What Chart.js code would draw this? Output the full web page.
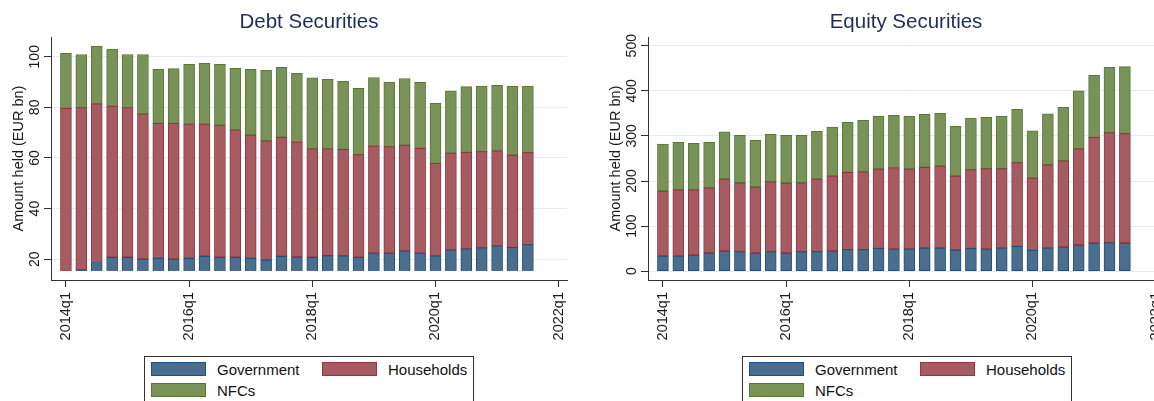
<!DOCTYPE html>
<html>
<head>
<meta charset="utf-8">
<title>Debt and equity securities held</title>
<script src="https://cdn.jsdelivr.net/npm/chart.js@4/dist/chart.umd.min.js"></script>
<style>
  html, body { margin: 0; padding: 0; background: #fff; }
  #page { position: relative; width: 1154px; height: 401px; overflow: hidden; }
  #page canvas { position: absolute; top: 0; }
  .legend {
    position: absolute; top: 356px; width: 328px; height: 60px;
    border: 1px solid #333; background: #fff;
    font: 15px "Liberation Sans", Arial, sans-serif; color: #111;
  }
  .legend .item { position: absolute; display: flex; align-items: center; height: 14px; white-space: nowrap; }
  .legend .sw { width: 53px; height: 12px; border: 1px solid; margin-right: 11px; }
</style>
</head>
<body>
<div id="page">
  <canvas id="debt" width="577" height="401" style="left:0px"></canvas>
  <canvas id="equity" width="577" height="401" style="left:597px"></canvas>
  <div class="legend" id="legend-debt" style="left:144px"></div>
  <div class="legend" id="legend-equity" style="left:742px"></div>
</div>
<script>
// Quarters covered by the series
const quarters = [
  '2014q1','2014q2','2014q3','2014q4',
  '2015q1','2015q2','2015q3','2015q4',
  '2016q1','2016q2','2016q3','2016q4',
  '2017q1','2017q2','2017q3','2017q4',
  '2018q1','2018q2','2018q3','2018q4',
  '2019q1','2019q2','2019q3','2019q4',
  '2020q1','2020q2','2020q3','2020q4',
  '2021q1','2021q2','2021q3'
];
const xTickLabels = ['2014q1', '2016q1', '2018q1', '2020q1', '2022q1'];
const debtYTicks = [20, 40, 60, 80, 100];
const equityYTicks = [0, 100, 200, 300, 400, 500];
const seriesNames = ['Government', 'Households', 'NFCs'];

// Debt securities held, EUR bn, by holder sector
const debtGovernment = [15.2, 15.8, 19.1, 20.8, 20.8, 20.1, 20.4, 20.1, 20.4, 21.2, 20.8, 20.8, 20.4, 19.7, 21.2, 20.9,
                        20.8, 21.4, 21.3, 20.8, 22.4, 22.4, 23.3, 22.4, 21.3, 23.7, 24.1, 24.5, 25.3, 24.7, 25.8];
const debtHouseholds = [64.4, 64.1, 62.3, 59.7, 59.1, 57.3, 53.3, 53.6, 53.0, 52.2, 52.2, 50.3, 48.7, 47.1, 47.0, 45.4,
                        42.8, 42.2, 42.1, 40.5, 42.3, 42.1, 41.8, 41.4, 36.6, 38.2, 38.1, 38.0, 37.5, 36.5, 36.3];
const debtNFCs       = [21.7, 21.0, 22.7, 22.5, 21.0, 23.5, 21.3, 21.6, 23.6, 24.0, 24.0, 24.3, 25.9, 27.8, 27.6, 27.1,
                        28.1, 27.5, 26.9, 26.2, 27.1, 25.4, 26.3, 26.1, 23.7, 24.6, 26.0, 25.9, 25.9, 27.1, 26.2];

// Equity securities held, EUR bn, by holder sector
const equityGovernment = [33.7, 33.7, 35.9, 40.4, 44.8, 43.3, 40.4, 43.3, 40.4, 43.3, 43.3, 44.8, 47.7, 47.7, 50.7, 49.2,
                          49.2, 51.4, 51.4, 47.0, 50.7, 49.2, 51.4, 55.1, 46.3, 51.4, 53.7, 58.1, 62.5, 63.3, 62.5];
const equityHouseholds = [144.1, 147.0, 144.8, 144.7, 159.6, 152.9, 146.3, 155.1, 155.1, 152.9, 161.1, 166.3, 171.6, 172.9, 175.9, 179.8,
                          177.4, 179.0, 181.9, 164.1, 174.4, 178.1, 175.9, 185.5, 160.4, 184.7, 191.3, 213.5, 234.4, 243.8, 242.4];
const equityNFCs       = [104.2, 105.1, 102.9, 100.7, 104.9, 105.1, 103.5, 105.1, 105.8, 105.1, 105.8, 108.6, 110.9, 114.0, 116.9, 116.7,
                          117.5, 117.4, 116.8, 110.2, 114.6, 113.9, 116.8, 118.4, 104.8, 113.1, 118.4, 128.6, 137.5, 145.0, 148.6];

const FONT = '"Liberation Sans", Arial, Helvetica, sans-serif';
const fills   = ['#4b6d8e', '#a65b61', '#78925a'];
const borders = ['#22507a', '#93363e', '#577a30'];

// Quarter label -> position on the time axis (quarters since the first one)
const baseYear = parseInt(quarters[0].slice(0, 4), 10);
function quarterIndex(label) {
  return (parseInt(label.slice(0, 4), 10) - baseYear) * 4 + parseInt(label.slice(5), 10) - 1;
}

// Titles and rotated y tick labels, drawn in the style of the original graph
const panelText = {
  id: 'panelText',
  afterDraw(chart, args, opts) {
    const { ctx, chartArea: a } = chart;
    const y = chart.scales.y;
    ctx.save();
    ctx.textAlign = 'center';
    ctx.textBaseline = 'alphabetic';
    ctx.fillStyle = '#1e2d58';
    ctx.font = '20.5px ' + FONT;
    ctx.fillText(opts.title, (a.left + a.right) / 2, a.top - 9);

    ctx.fillStyle = '#1a1a1a';
    ctx.font = '14.5px ' + FONT;
    ctx.save();
    ctx.translate(a.left - 28, (a.top + a.bottom) / 2);
    ctx.rotate(-Math.PI / 2);
    ctx.fillText(opts.yTitle, 0, 0);
    ctx.restore();

    ctx.font = '14px ' + FONT;
    y.ticks.forEach(t => {
      const py = y.getPixelForValue(t.value);
      ctx.save();
      ctx.translate(a.left - 12, py);
      ctx.rotate(-Math.PI / 2);
      ctx.fillText(String(t.value), 0, 0);
      ctx.restore();
    });
    ctx.restore();
  }
};

function makePanel(canvasId, legendId, title, series, yMin, yMax, yTicks) {
  const datasets = series.map((values, s) => ({
    label: seriesNames[s],
    data: values.map((v, i) => ({ x: quarterIndex(quarters[i]), y: v })),
    backgroundColor: fills[s],
    borderColor: borders[s],
    borderWidth: 1,
    borderSkipped: false,
    barThickness: 11,
    clip: { left: 10, right: 10, top: 10, bottom: -9 }
  }));

  const chart = new Chart(document.getElementById(canvasId), {
    type: 'bar',
    data: { datasets },
    plugins: [panelText],
    options: {
      responsive: false,
      animation: false,
      devicePixelRatio: 1,
      layout: { padding: { top: 37, right: 10, left: 0, bottom: 0 } },
      plugins: {
        legend: { display: false },
        tooltip: { enabled: false },
        title: { display: false },
        panelText: { title: title, yTitle: 'Amount held (EUR bn)' }
      },
      scales: {
        x: {
          type: 'linear',
          stacked: true,
          min: -0.97,
          max: 32.54,
          offset: false,
          afterBuildTicks: s => { s.ticks = xTickLabels.map(l => ({ value: quarterIndex(l) })); },
          afterFit: s => { s.height = 121; s.paddingLeft = 0; s.paddingRight = 0; },
          ticks: {
            autoSkip: false,
            minRotation: 90,
            maxRotation: 90,
            padding: 5,
            color: '#1a1a1a',
            font: { family: FONT, size: 14.5 },
            callback: (v, i) => xTickLabels[i]
          },
          grid: { display: true, offset: false, drawOnChartArea: false, drawTicks: true, tickLength: 7, tickColor: '#333', lineWidth: 1 },
          border: { display: true, color: '#333', width: 1 }
        },
        y: {
          type: 'linear',
          stacked: true,
          min: yMin,
          max: yMax,
          afterBuildTicks: s => { s.ticks = yTicks.map(v => ({ value: v })); },
          afterFit: s => { s.width = 51; },
          ticks: { display: false },
          grid: { color: '#e3ecee', lineWidth: 1, drawTicks: true, tickLength: 7, tickColor: '#333' },
          border: { display: true, color: '#333', width: 1 }
        }
      }
    }
  });

  // Legend box built from the chart's own datasets
  const box = document.getElementById(legendId);
  chart.data.datasets.forEach((ds, i) => {
    const item = document.createElement('div');
    item.className = 'item';
    item.style.left = (6 + (i % 2) * 171) + 'px';
    item.style.top = (5 + Math.floor(i / 2) * 21) + 'px';
    const sw = document.createElement('span');
    sw.className = 'sw';
    sw.style.background = ds.backgroundColor;
    sw.style.borderColor = ds.borderColor;
    const txt = document.createElement('span');
    txt.textContent = ds.label;
    item.appendChild(sw);
    item.appendChild(txt);
    box.appendChild(item);
  });
  return chart;
}

makePanel('debt', 'legend-debt', 'Debt Securities',
  [debtGovernment, debtHouseholds, debtNFCs], 11.8, 107.8, debtYTicks);
makePanel('equity', 'legend-equity', 'Equity Securities',
  [equityGovernment, equityHouseholds, equityNFCs], -19.5, 519.3, equityYTicks);
</script>
</body>
</html>
